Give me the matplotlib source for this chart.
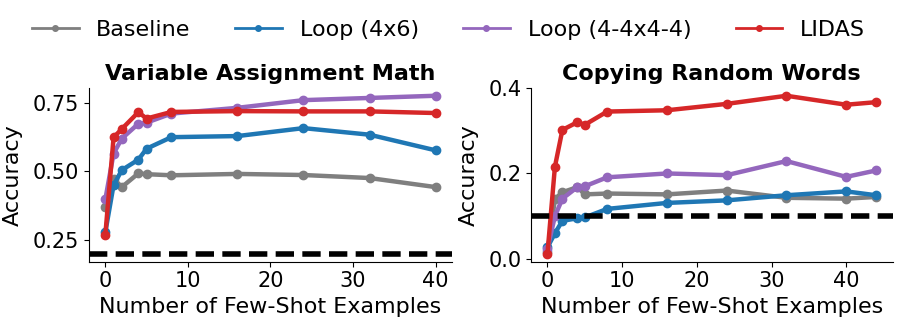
import matplotlib
matplotlib.use('Agg')
import matplotlib.pyplot as plt
from matplotlib.lines import Line2D

# ─── data ──────────────────────────────────────────────────────
SERIES = ['Baseline', 'Loop (4x6)', 'Loop (4-4x4-4)', 'LIDAS']
COLORS = ['#7f7f7f', '#1f77b4', '#9467bd', '#d62728']

math_x = [0, 1, 2, 4, 5, 8, 16, 24, 32, 40]
math_baseline = [0.369, 0.474, 0.443, 0.493, 0.490, 0.486, 0.491, 0.487, 0.476, 0.443]
math_loop46 = [0.278, 0.450, 0.505, 0.543, 0.583, 0.625, 0.629, 0.658, 0.634, 0.577]
math_loop4444 = [0.398, 0.565, 0.620, 0.674, 0.678, 0.711, 0.732, 0.760, 0.768, 0.776]
math_lidas = [0.268, 0.624, 0.655, 0.716, 0.693, 0.717, 0.720, 0.719, 0.719, 0.713]
math_chance = 0.2

copy_x = [0, 1, 2, 4, 5, 8, 16, 24, 32, 40, 44]
copy_baseline = [0.015, 0.140, 0.156, 0.168, 0.151, 0.153, 0.151, 0.160, 0.143, 0.141, 0.145]
copy_loop46 = [0.027, 0.060, 0.089, 0.095, 0.097, 0.117, 0.131, 0.137, 0.149, 0.158, 0.149]
copy_loop4444 = [0.024, 0.100, 0.141, 0.168, 0.170, 0.191, 0.200, 0.196, 0.229, 0.192, 0.207]
copy_lidas = [0.012, 0.216, 0.302, 0.320, 0.314, 0.345, 0.348, 0.363, 0.382, 0.361, 0.367]
copy_chance = 0.1

plt.rcParams['font.family'] = ['DejaVu Sans']

fig = plt.figure(figsize=(8.97, 3.23), dpi=100)
ax1 = fig.add_axes([0.099, 0.19, 0.405, 0.538])
ax2 = fig.add_axes([0.592, 0.19, 0.403, 0.538])

panels = [
    (ax1, 'Variable Assignment Math', math_x,
     [math_baseline, math_loop46, math_loop4444, math_lidas], math_chance, [0.25, 0.50, 0.75], '%.2f'),
    (ax2, 'Copying Random Words', copy_x,
     [copy_baseline, copy_loop46, copy_loop4444, copy_lidas], copy_chance, [0.0, 0.2, 0.4], '%.1f'),
]

for ax, title, xs, ys_list, chance, yticks, fmt in panels:
    for ys, c in zip(ys_list, COLORS):
        ax.plot(xs, ys, color=c, marker='o', linewidth=3.2, markersize=6)
    # chance level
    ax.axhline(chance, color='black', linestyle=(0, (3.3, 1.5)), linewidth=4)
    ax.set_title(title, fontsize=16, fontweight='bold', pad=6)
    ax.set_xlabel('Number of Few-Shot Examples', fontsize=16)
    ax.set_ylabel('Accuracy', fontsize=16, labelpad=7)
    ax.set_yticks(yticks)
    ax.set_yticklabels([fmt % v for v in yticks])
    ax.set_xticks([0, 10, 20, 30, 40])
    ax.tick_params(labelsize=15)
    for s in ['top', 'right']:
        ax.spines[s].set_visible(False)

handles = [Line2D([0], [0], color=c, marker='o', linewidth=2, markersize=4) for c in COLORS]
fig.legend(handles, SERIES, loc='upper center', bbox_to_anchor=(0.5, 1.0), ncol=4,
           frameon=False, fontsize=16, handlelength=2.1, columnspacing=2.0)

fig.savefig('out.png', dpi=100)
